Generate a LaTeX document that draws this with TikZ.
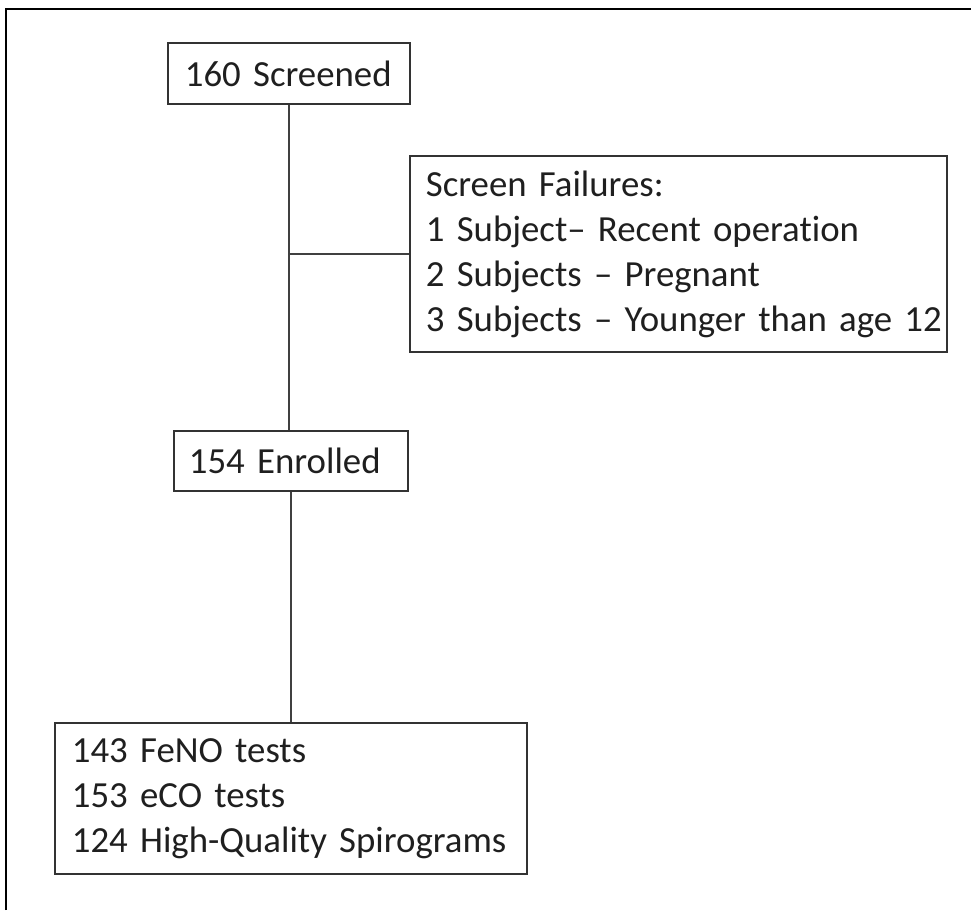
\documentclass[tikz,border=0pt]{standalone}
\usepackage{fontspec}
\setmainfont{Carlito}[Ligatures=NoCommon]
\usepackage{tikz}

\begin{document}
\begin{tikzpicture}[
    x=1pt, y=-1pt,
    box/.style={draw=black!80,line width=1.8pt,anchor=north west,align=left,
        inner ysep=0pt,text=black!88,font=\fontsize{36.8}{45}\selectfont},
    link/.style={draw=black!75,line width=1.5pt}
]
\useasboundingbox (0,0) rectangle (971,910);
% outer frame (left and top edges only)
\draw[line width=2pt] (6,910) -- (6,9) -- (971,9);

\node[box,inner xsep=17pt,text width=208pt,minimum height=61pt] (screened)
    at (167,42) {160 Screened};
\node[box,inner xsep=16pt,text width=505pt,minimum height=196pt] (failures)
    at (409,155) {Screen Failures:\\\mbox{1 Subject-- Recent operation}\\
    \mbox{2 Subjects -- Pregnant}\\\mbox{3 Subjects -- Younger than age 12}};
\node[box,inner xsep=15pt,text width=204pt,minimum height=60pt] (enrolled)
    at (173,430) {154 Enrolled};
\node[box,inner xsep=17pt,text width=438pt,minimum height=151pt] (results)
    at (54,722) {143 FeNO tests\\153 eCO tests\\\mbox{124 High-Quality Spirograms}};

\draw[link] (screened.south) -- (screened.south |- enrolled.north);
\draw[link] (screened.south |- failures.west) -- (failures.west);
\draw[link] (enrolled.south) -- (enrolled.south |- results.north);
\end{tikzpicture}
\end{document}
